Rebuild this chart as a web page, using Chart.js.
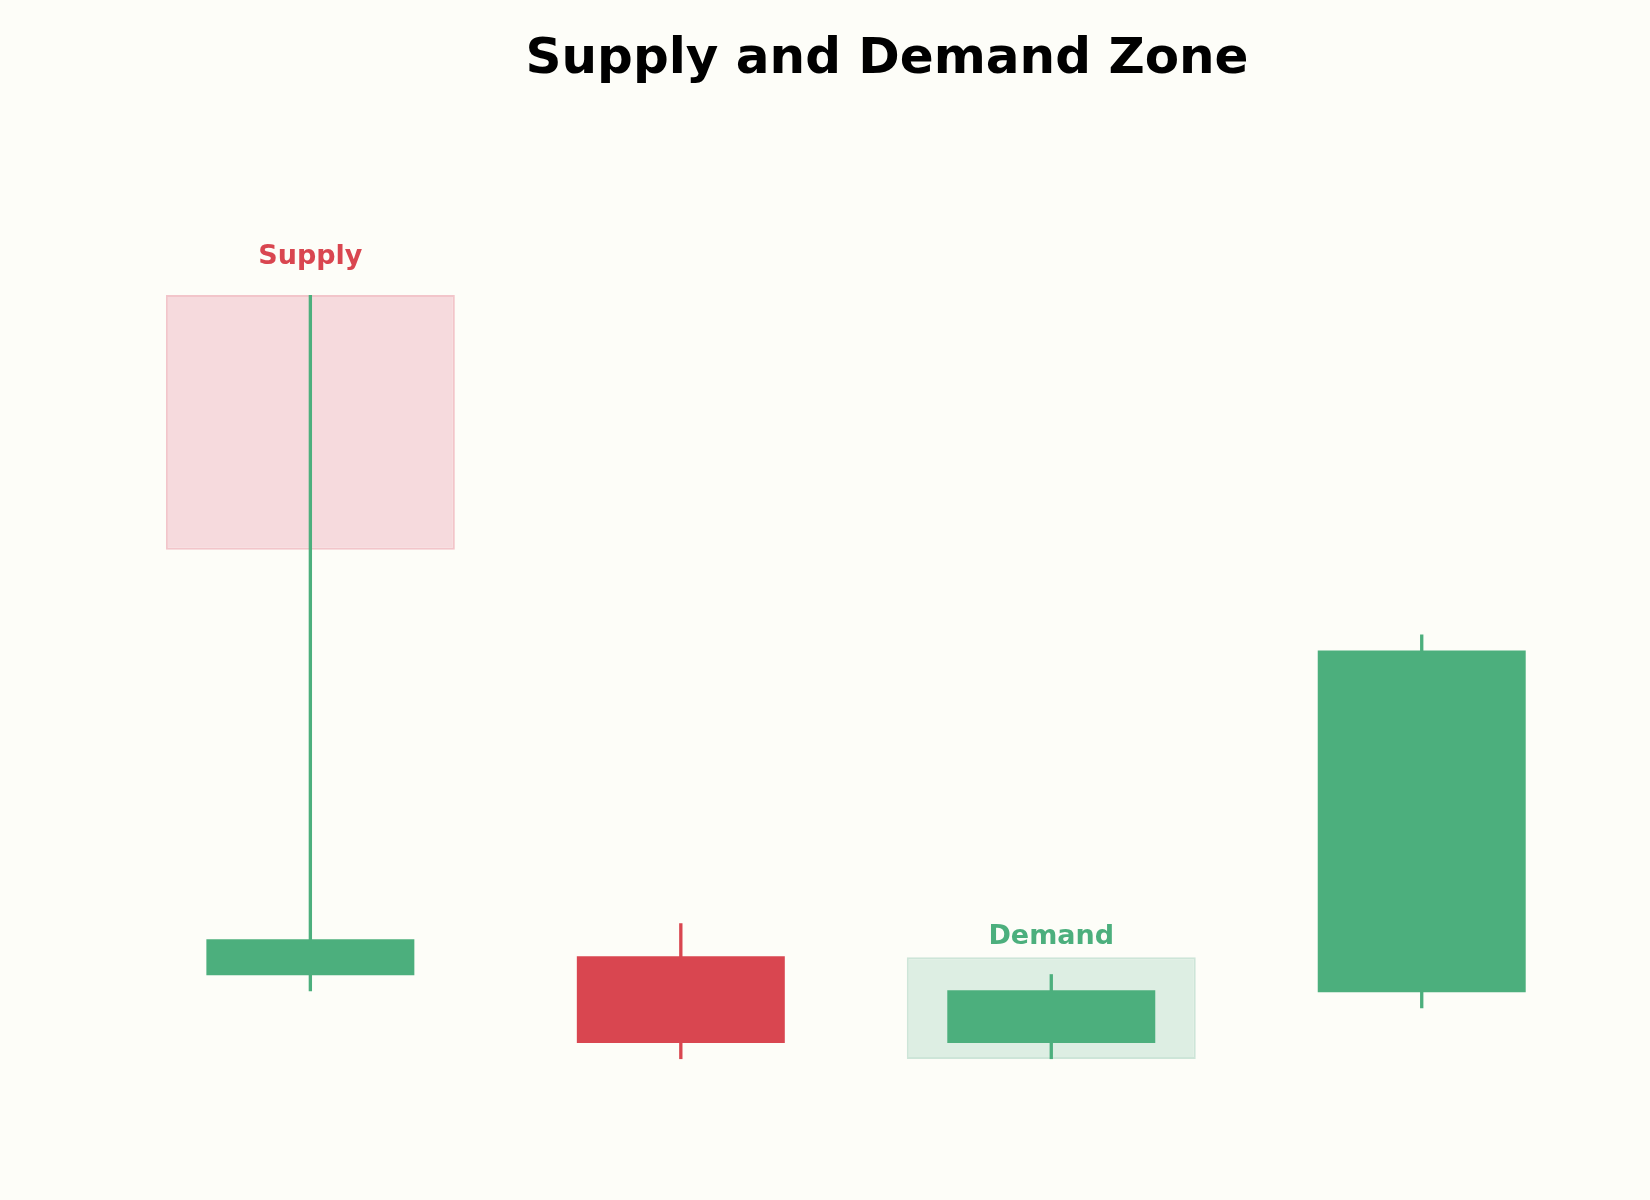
<!DOCTYPE html>
<html>
<head>
<meta charset="utf-8">
<title>Supply and Demand Zone</title>
<script src="https://cdn.jsdelivr.net/npm/chart.js@4"></script>
<style>
    html, body { margin: 0; padding: 0; background: #fdfdf8; }
    #chart { display: block; }
</style>
</head>
<body>
<canvas id="chart" width="1650" height="1200"></canvas>
<script>
// Candle data (one candle per position on the x axis)
const candles = ['C1', 'C2', 'C3', 'C4'];
const opens = [100, 101, 96, 99];
const highs = [140, 103, 100, 120];
const lows = [99, 95, 95, 98];
const closes = [102, 96, 99, 119];

// Zones: [bottom, top] and which candle they sit on
const supplyZone = [125, 140];
const supplyAt = 0;
const demandZone = [95, 101];
const demandAt = 2;

// Zone labels
const zoneLabels = ['Supply', 'Demand'];
const zoneLabelAt = [supplyAt, demandAt];
const zoneLabelLevel = [141.8, 101.75];

const GREEN = '#4caf7d';
const RED = '#d94650';

const bodyColors = candles.map((c, i) => closes[i] >= opens[i] ? GREEN : RED);

// Background + title + zone labels
const decorPlugin = {
    id: 'decor',
    beforeDraw(chart) {
        const ctx = chart.ctx;
        ctx.save();
        ctx.fillStyle = '#fdfdf8';
        ctx.fillRect(0, 0, chart.width, chart.height);
        ctx.restore();
    },
    afterDraw(chart) {
        const ctx = chart.ctx;
        const xs = chart.scales.x;
        const ys = chart.scales.y;
        ctx.save();
        ctx.textAlign = 'center';
        ctx.textBaseline = 'alphabetic';
        ctx.fillStyle = '#000000';
        ctx.font = 'bold 50px "DejaVu Sans"';
        ctx.fillText('Supply and Demand Zone', 887, 73);

        ctx.font = 'bold 27px "DejaVu Sans"';
        zoneLabels.forEach((txt, i) => {
            ctx.fillStyle = i === 0 ? RED : GREEN;
            ctx.fillText(txt, xs.getPixelForValue(zoneLabelAt[i]), ys.getPixelForValue(zoneLabelLevel[i]));
        });
        ctx.restore();
    }
};

const ctx = document.getElementById('chart');

new Chart(ctx, {
    type: 'bar',
    data: {
        datasets: [
            {
                label: 'Supply zone',
                data: [{ x: supplyAt, y: supplyZone }],
                backgroundColor: '#f6dadd',
                borderColor: '#f2c5ca',
                borderWidth: 2,
                borderSkipped: false,
                barPercentage: 0.78,
                order: 3
            },
            {
                label: 'Demand zone',
                data: [{ x: demandAt, y: demandZone }],
                backgroundColor: '#ddeee3',
                borderColor: '#cde5d8',
                borderWidth: 2,
                borderSkipped: false,
                barPercentage: 0.78,
                order: 3
            },
            {
                label: 'Wicks',
                data: candles.map((c, i) => ({ x: i, y: [lows[i], highs[i]] })),
                backgroundColor: bodyColors,
                borderWidth: 0,
                inflateAmount: 0,
                barPercentage: 0.009,
                order: 2
            },
            {
                label: 'Bodies',
                data: candles.map((c, i) => ({ x: i, y: [opens[i], closes[i]] })),
                backgroundColor: bodyColors,
                borderWidth: 0,
                // body edge line in the original adds about a pixel all round
                inflateAmount: 1,
                barPercentage: 0.556,
                order: 1
            }
        ]
    },
    options: {
        responsive: false,
        devicePixelRatio: 1,
        animation: false,
        layout: { padding: { top: 210, bottom: 56, left: 14, right: 6 } },
        datasets: {
            bar: { grouped: false, categoryPercentage: 1 }
        },
        scales: {
            x: {
                type: 'linear',
                min: -0.8,
                max: 3.6,
                offset: false,
                display: false,
                // one tick per candle so bar widths follow the candle spacing
                afterBuildTicks: (scale) => {
                    scale.ticks = candles.map((c, i) => ({ value: i }));
                }
            },
            y: {
                min: 90,
                max: 145,
                display: false
            }
        },
        plugins: {
            legend: { display: false },
            tooltip: { enabled: false },
            title: { display: false }
        }
    },
    plugins: [decorPlugin]
});
</script>
</body>
</html>
